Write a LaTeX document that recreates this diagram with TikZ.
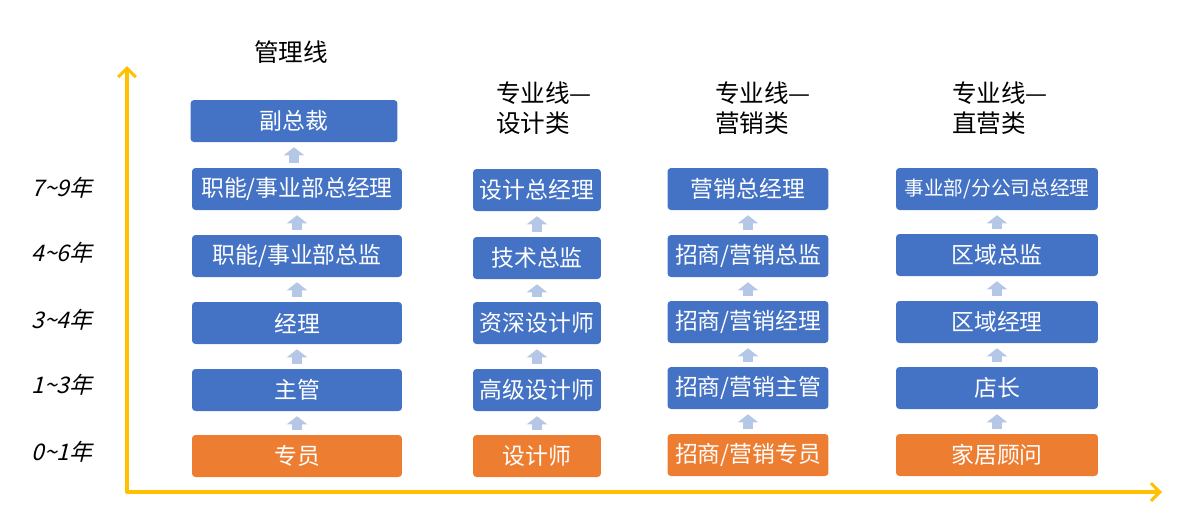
\documentclass[tikz,border=0pt]{standalone}
\usepackage{fontspec}
\setmainfont{Noto Sans CJK SC}
\newfontfamily\yearfont[FakeSlant=0.25]{Noto Sans CJK SC}
\usetikzlibrary{arrows.meta}
\definecolor{postblue}{HTML}{4472C4}
\definecolor{postorange}{HTML}{ED7D31}
\definecolor{axisyellow}{HTML}{FFC000}
\definecolor{promoblue}{HTML}{B4C7E7}
\tikzset{
  post/.style={fill=postblue, rounded corners=2pt, text=white, inner sep=1pt,
    minimum height=0.84cm, font=\fontsize{13}{15}\selectfont},
  entry/.style={post, fill=postorange},
  colA/.style={minimum width=4.2cm},
  colB/.style={minimum width=2.56cm},
  colC/.style={minimum width=3.22cm},
  colD/.style={minimum width=4.04cm},
  promo/.style={draw=promoblue, line width=5.6pt, shorten <=2.8pt, shorten >=2.8pt,
    -{Triangle[width=11.5pt, length=4.6pt]}},
  axis/.style={draw=axisyellow, line width=1.8pt, line join=round,
    {Straight Barb[length=5pt, width=10pt]}-{Straight Barb[length=5pt, width=10pt]}},
  head/.style={font=\fontsize{14}{17}\selectfont, align=left},
  year/.style={font=\yearfont\fontsize{13}{15}\selectfont}
}
\begin{document}
\begin{tikzpicture}[x=0.02cm, y=-0.02cm]
  \useasboundingbox (0,0) rectangle (1194,512);
  % axes
  \coordinate (ytop) at (127,66);
  \coordinate (orig) at (127,492);
  \coordinate (xend) at (1162,492);
  \draw[axis] (ytop) -- (orig) -- (xend);
  % years
  \node[year] (y5) at (62,188) {7\textasciitilde 9年};
  \node[year] (y4) at (62,253) {4\textasciitilde 6年};
  \node[year] (y3) at (62,320) {3\textasciitilde 4年};
  \node[year] (y2) at (62,385) {1\textasciitilde 3年};
  \node[year] (y1) at (62,452) {0\textasciitilde 1年};
  % headings
  \node[head] (hA) at (291,52) {管理线};
  \node[head] (hB) at (544,108) {专业线—\\设计类};
  \node[head] (hC) at (763,108) {专业线—\\营销类};
  \node[head] (hD) at (1000,108) {专业线—\\直营类};
  % management line
  \node[post, colA, minimum width=4.14cm] (a6) at (294,121) {副总裁};
  \node[post, colA] (a5) at (297,189) {职能/事业部总经理};
  \node[post, colA] (a4) at (297,256) {职能/事业部总监};
  \node[post, colA] (a3) at (297,323) {经理};
  \node[post, colA] (a2) at (297,390) {主管};
  \node[entry, colA] (a1) at (297,456) {专员};
  % design
  \node[post, colB] (b5) at (537,190) {设计总经理};
  \node[post, colB] (b4) at (537,258) {技术总监};
  \node[post, colB] (b3) at (537,323) {资深设计师};
  \node[post, colB] (b2) at (537,390) {高级设计师};
  \node[entry, colB] (b1) at (537,456) {设计师};
  % marketing
  \node[post, colC] (c5) at (748,189) {营销总经理};
  \node[post, colC] (c4) at (748,256) {招商/营销总监};
  \node[post, colC] (c3) at (748,322) {招商/营销经理};
  \node[post, colC] (c2) at (748,388) {招商/营销主管};
  \node[entry, colC] (c1) at (748,455) {招商/营销专员};
  % direct sales
  \node[post, colD, font=\fontsize{11.2}{13}\selectfont] (d5) at (997,189) {事业部/分公司总经理};
  \node[post, colD] (d4) at (997,255) {区域总监};
  \node[post, colD] (d3) at (997,322) {区域经理};
  \node[post, colD] (d2) at (997,388) {店长};
  \node[entry, colD] (d1) at (997,455) {家居顾问};
  % promotions
  \foreach \i/\j in {1/2,2/3,3/4,4/5} {
    \draw[promo] (a\i) -- (a\j);
    \draw[promo] (b\i) -- (b\j);
    \draw[promo] (c\i) -- (c\j);
    \draw[promo] (d\i) -- (d\j);
  }
  \draw[promo] (a5.north -| a6.south) -- (a6.south);
\end{tikzpicture}
\end{document}
